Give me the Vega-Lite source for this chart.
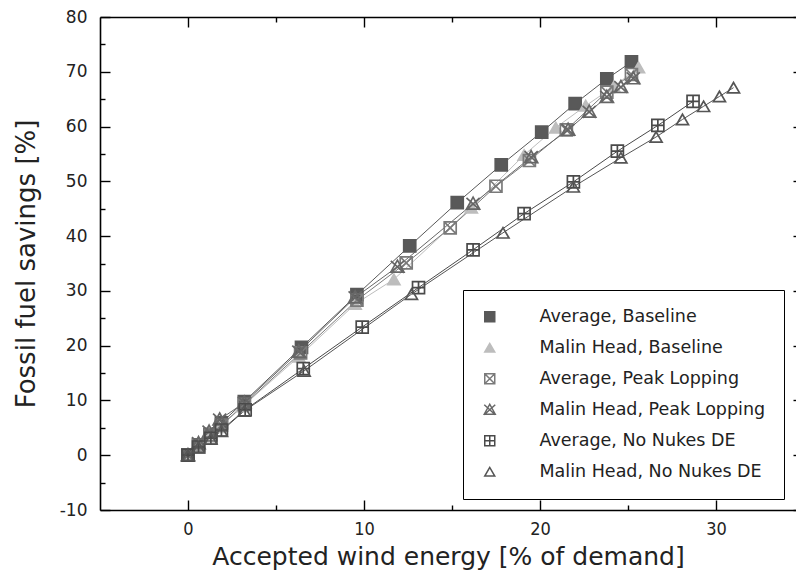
{
  "$schema": "https://vega.github.io/schema/vega-lite/v6.json",
  "autosize": {"type": "none"},
  "padding": {"left": 100, "top": 17, "right": 0, "bottom": 64},
  "width": 696,
  "height": 493,
  "background": "white",
  "data": {"values": [
    {"s": "Average, Baseline", "x": 0, "y": 0},
    {"s": "Average, Baseline", "x": 0.6, "y": 1.9},
    {"s": "Average, Baseline", "x": 1.25, "y": 3.8},
    {"s": "Average, Baseline", "x": 1.9, "y": 5.9},
    {"s": "Average, Baseline", "x": 3.2, "y": 9.8},
    {"s": "Average, Baseline", "x": 6.45, "y": 19.7},
    {"s": "Average, Baseline", "x": 9.6, "y": 29.3},
    {"s": "Average, Baseline", "x": 12.6, "y": 38.2},
    {"s": "Average, Baseline", "x": 15.3, "y": 46.1},
    {"s": "Average, Baseline", "x": 17.8, "y": 53.0},
    {"s": "Average, Baseline", "x": 20.1, "y": 59.0},
    {"s": "Average, Baseline", "x": 22.0, "y": 64.2},
    {"s": "Average, Baseline", "x": 23.8, "y": 68.7},
    {"s": "Average, Baseline", "x": 25.2, "y": 71.8},
    {"s": "Malin Head, Baseline", "x": 0, "y": 0},
    {"s": "Malin Head, Baseline", "x": 0.6, "y": 1.7},
    {"s": "Malin Head, Baseline", "x": 1.2, "y": 3.4},
    {"s": "Malin Head, Baseline", "x": 1.8, "y": 5.1},
    {"s": "Malin Head, Baseline", "x": 3.1, "y": 8.9},
    {"s": "Malin Head, Baseline", "x": 6.3, "y": 18.0},
    {"s": "Malin Head, Baseline", "x": 9.5, "y": 27.6},
    {"s": "Malin Head, Baseline", "x": 11.7, "y": 32.1},
    {"s": "Malin Head, Baseline", "x": 16.1, "y": 45.2},
    {"s": "Malin Head, Baseline", "x": 19.1, "y": 54.8},
    {"s": "Malin Head, Baseline", "x": 20.9, "y": 59.8},
    {"s": "Malin Head, Baseline", "x": 22.6, "y": 63.8},
    {"s": "Malin Head, Baseline", "x": 24.2, "y": 67.3},
    {"s": "Malin Head, Baseline", "x": 25.6, "y": 70.8},
    {"s": "Average, Peak Lopping", "x": 0, "y": 0},
    {"s": "Average, Peak Lopping", "x": 0.6, "y": 1.8},
    {"s": "Average, Peak Lopping", "x": 1.3, "y": 3.7},
    {"s": "Average, Peak Lopping", "x": 1.9, "y": 5.5},
    {"s": "Average, Peak Lopping", "x": 3.2, "y": 9.3},
    {"s": "Average, Peak Lopping", "x": 6.4, "y": 18.7},
    {"s": "Average, Peak Lopping", "x": 9.6, "y": 28.3},
    {"s": "Average, Peak Lopping", "x": 12.4, "y": 35.1},
    {"s": "Average, Peak Lopping", "x": 14.9, "y": 41.5},
    {"s": "Average, Peak Lopping", "x": 17.5, "y": 49.1},
    {"s": "Average, Peak Lopping", "x": 19.4, "y": 53.8},
    {"s": "Average, Peak Lopping", "x": 21.5, "y": 59.4},
    {"s": "Average, Peak Lopping", "x": 23.8, "y": 66.3},
    {"s": "Average, Peak Lopping", "x": 25.2, "y": 69.5},
    {"s": "Malin Head, Peak Lopping", "x": 0, "y": 0},
    {"s": "Malin Head, Peak Lopping", "x": 0.6, "y": 2.2},
    {"s": "Malin Head, Peak Lopping", "x": 1.2, "y": 4.3},
    {"s": "Malin Head, Peak Lopping", "x": 1.8, "y": 6.5},
    {"s": "Malin Head, Peak Lopping", "x": 3.2, "y": 9.6},
    {"s": "Malin Head, Peak Lopping", "x": 6.3, "y": 18.9},
    {"s": "Malin Head, Peak Lopping", "x": 9.5, "y": 28.8},
    {"s": "Malin Head, Peak Lopping", "x": 11.9, "y": 34.4},
    {"s": "Malin Head, Peak Lopping", "x": 16.2, "y": 45.9},
    {"s": "Malin Head, Peak Lopping", "x": 19.5, "y": 54.4},
    {"s": "Malin Head, Peak Lopping", "x": 21.6, "y": 59.4},
    {"s": "Malin Head, Peak Lopping", "x": 22.8, "y": 62.7},
    {"s": "Malin Head, Peak Lopping", "x": 23.8, "y": 65.4},
    {"s": "Malin Head, Peak Lopping", "x": 24.6, "y": 67.2},
    {"s": "Malin Head, Peak Lopping", "x": 25.3, "y": 68.8},
    {"s": "Average, No Nukes DE", "x": 0, "y": 0},
    {"s": "Average, No Nukes DE", "x": 0.6, "y": 1.5},
    {"s": "Average, No Nukes DE", "x": 1.3, "y": 3.1},
    {"s": "Average, No Nukes DE", "x": 1.9, "y": 4.6},
    {"s": "Average, No Nukes DE", "x": 3.25, "y": 8.3},
    {"s": "Average, No Nukes DE", "x": 6.55, "y": 15.8},
    {"s": "Average, No Nukes DE", "x": 9.9, "y": 23.4},
    {"s": "Average, No Nukes DE", "x": 13.1, "y": 30.6},
    {"s": "Average, No Nukes DE", "x": 16.2, "y": 37.5},
    {"s": "Average, No Nukes DE", "x": 19.1, "y": 44.1},
    {"s": "Average, No Nukes DE", "x": 21.9, "y": 49.9},
    {"s": "Average, No Nukes DE", "x": 24.4, "y": 55.5},
    {"s": "Average, No Nukes DE", "x": 26.7, "y": 60.2},
    {"s": "Average, No Nukes DE", "x": 28.7, "y": 64.6},
    {"s": "Malin Head, No Nukes DE", "x": 0, "y": 0},
    {"s": "Malin Head, No Nukes DE", "x": 0.6, "y": 1.4},
    {"s": "Malin Head, No Nukes DE", "x": 1.3, "y": 3.0},
    {"s": "Malin Head, No Nukes DE", "x": 1.9, "y": 4.4},
    {"s": "Malin Head, No Nukes DE", "x": 3.2, "y": 8.1},
    {"s": "Malin Head, No Nukes DE", "x": 6.6, "y": 15.4},
    {"s": "Malin Head, No Nukes DE", "x": 12.7, "y": 29.4},
    {"s": "Malin Head, No Nukes DE", "x": 17.9, "y": 40.6},
    {"s": "Malin Head, No Nukes DE", "x": 21.9, "y": 49.0},
    {"s": "Malin Head, No Nukes DE", "x": 24.6, "y": 54.3},
    {"s": "Malin Head, No Nukes DE", "x": 26.6, "y": 58.1},
    {"s": "Malin Head, No Nukes DE", "x": 28.1, "y": 61.3},
    {"s": "Malin Head, No Nukes DE", "x": 29.3, "y": 63.7},
    {"s": "Malin Head, No Nukes DE", "x": 30.2, "y": 65.5},
    {"s": "Malin Head, No Nukes DE", "x": 31.0, "y": 67.1}
  ]},
  "layer": [
    {
      "mark": {"type": "line", "strokeWidth": 1},
      "encoding": {
        "x": {"field": "x", "type": "quantitative",
              "scale": {"domain": [-5, 34.55], "nice": false, "zero": false},
              "axis": {"orient": "bottom", "values": [0, 5, 10, 15, 20, 25, 30],
                       "labelExpr": "datum.value % 10 === 0 ? '' + datum.value : ''",
                       "tickSize": {"condition": {"test": "datum.value % 10 === 0", "value": -10}, "value": -5},
                       "labelFont": "Liberation Sans Narrow, DejaVu Sans Condensed, Liberation Sans",
                       "labelFontSize": 18, "labelPadding": 20,
                       "title": "Accepted wind energy [% of demand]",
                       "titleFontSize": 25, "titlePadding": 6}},
        "y": {"field": "y", "type": "quantitative",
              "scale": {"domain": [-10, 80], "nice": false, "zero": false},
              "axis": {"orient": "left", "values": [-10, -5, 0, 5, 10, 15, 20, 25, 30, 35, 40, 45, 50, 55, 60, 65, 70, 75, 80],
                       "labelExpr": "datum.value % 10 === 0 ? '' + datum.value : ''",
                       "tickSize": {"condition": {"test": "datum.value % 10 === 0", "value": -10}, "value": -5},
                       "labelFontSize": 17, "labelPadding": 23,
                       "title": "Fossil fuel savings [%]",
                       "titleFontSize": 26, "titlePadding": 20}},
        "color": {"field": "s", "type": "nominal",
                  "scale": {"domain": ["Average, Baseline", "Malin Head, Baseline", "Average, Peak Lopping", "Malin Head, Peak Lopping", "Average, No Nukes DE", "Malin Head, No Nukes DE"],
                            "range": ["#595959", "#bdbdbd", "#7a7a7a", "#666666", "#4a4a4a", "#555555"]}},
        "order": {"field": "x", "type": "quantitative"}
      }
    },
    {
      "mark": {"type": "point", "filled": false, "strokeWidth": 1.7, "size": 144, "opacity": 1},
      "encoding": {
        "x": {"field": "x", "type": "quantitative",
              "axis": {"orient": "top", "values": [0, 5, 10, 15, 20, 25, 30], "labels": false, "title": null,
                       "tickSize": {"condition": {"test": "datum.value % 10 === 0", "value": -10}, "value": -5}}},
        "y": {"field": "y", "type": "quantitative",
              "axis": {"orient": "right", "values": [-10, 0, 10, 20, 30, 40, 50, 60, 70, 80], "labels": false, "title": null,
                       "domain": false, "tickSize": -3}},
        "color": {"field": "s", "type": "nominal", "legend": {
            "title": null, "orient": "none", "legendX": 363, "legendY": 273,
            "strokeColor": "black", "fillColor": "white", "padding": 18,
            "labelFont": "DejaVu Sans", "labelFontSize": 17.5, "labelColor": "#222", "labelLimit": 400,
            "labelOffset": 41, "rowPadding": 12, "symbolSize": 100, "symbolStrokeWidth": 1.5
          }},
        "shape": {"field": "s", "type": "nominal",
                  "scale": {"domain": ["Average, Baseline", "Malin Head, Baseline", "Average, Peak Lopping", "Malin Head, Peak Lopping", "Average, No Nukes DE", "Malin Head, No Nukes DE"],
                            "range": ["square", "triangle-up", "M-1,-1H1V1H-1ZM-1,-1L1,1M1,-1L-1,1", "M0,-1.1L1.1,0.9H-1.1ZM-1.1,-1L1.1,1M1.1,-1L-1.1,1", "M-1,-1H1V1H-1ZM0,-1V1M-1,0H1", "triangle-up"]}},
        "fill": {"field": "s", "type": "nominal",
                 "scale": {"domain": ["Average, Baseline", "Malin Head, Baseline", "Average, Peak Lopping", "Malin Head, Peak Lopping", "Average, No Nukes DE", "Malin Head, No Nukes DE"],
                           "range": ["#595959", "#bdbdbd", "transparent", "transparent", "transparent", "transparent"]}}
      }
    }
  ],
  "resolve": {"axis": {"x": "independent", "y": "independent"}},
  "config": {
    "view": {"stroke": null},
    "font": "DejaVu Sans",
    "axis": {"domainColor": "black", "domainWidth": 1.6, "tickColor": "black", "tickWidth": 1.4,
             "grid": false, "labelColor": "#222", "titleColor": "#222", "titleFontWeight": "normal",
             "labelFont": "DejaVu Sans", "titleFont": "DejaVu Sans"}
  }
}
